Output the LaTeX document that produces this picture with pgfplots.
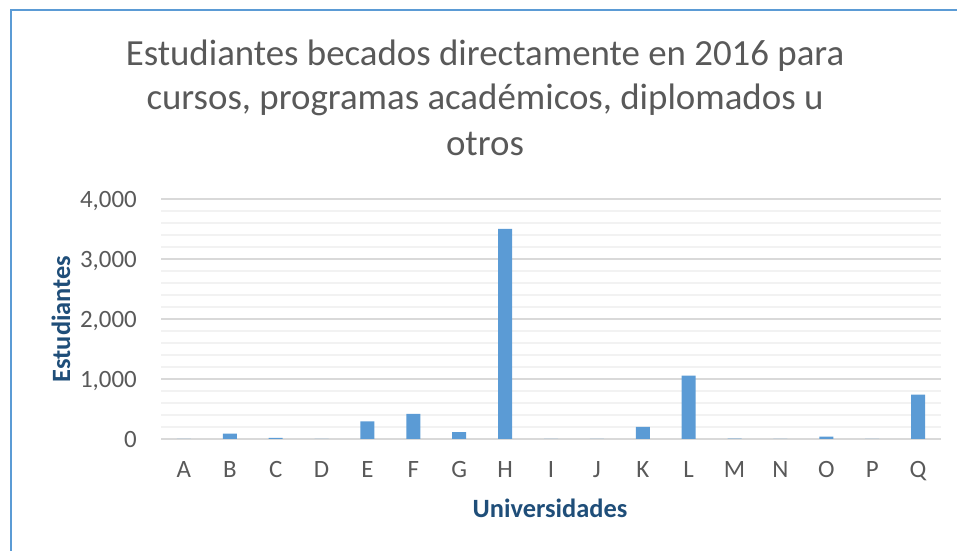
\documentclass[border=0pt]{standalone}
\usepackage{pgfplots}
\pgfplotsset{compat=1.18}
\usepackage{fontspec}
\setmainfont{Carlito}
\definecolor{barblue}{HTML}{5B9BD5}
\definecolor{framecol}{HTML}{5B9BD5}
\definecolor{txtgray}{HTML}{595959}
\definecolor{labblue}{HTML}{1F4E79}
\definecolor{majgrid}{HTML}{D9D9D9}
\definecolor{mingrid}{HTML}{F2F2F2}
\begin{document}
\begin{tikzpicture}[x=1bp,y=1bp]
\useasboundingbox (0,0) rectangle (957,551);
\draw[framecol, line width=2bp] (10.5,0) -- (10.5,540.5) -- (957,540.5);
\node[anchor=base, inner sep=0, text=txtgray, font=\fontsize{37}{44}\selectfont] at (485,485) {Estudiantes becados directamente en 2016 para};
\node[anchor=base, inner sep=0, text=txtgray, font=\fontsize{37}{44}\selectfont] at (485,441) {cursos, programas académicos, diplomados u};
\node[anchor=base, inner sep=0, text=txtgray, font=\fontsize{37}{44}\selectfont] at (485,395) {otros};
\node[rotate=90, inner sep=0, text=labblue, font=\fontsize{26.5}{30}\selectfont\bfseries] at (61,232) {Estudiantes};
\node[anchor=base, inner sep=0, text=labblue, font=\fontsize{26.5}{30}\selectfont\bfseries] at (550,33) {Universidades};
\begin{axis}[
  at={(161bp,112bp)}, anchor=south west,
  scale only axis, width=780bp, height=240bp,
  xmin=-0.5, xmax=16.5, ymin=0, ymax=4000,
  axis x line*=bottom, axis y line*=left,
  y axis line style={draw=none},
  x axis line style={draw=majgrid, line width=1.4bp, -},
  major tick length=0pt, minor tick length=0pt,
  xtick={0,...,16},
  xticklabels={A,B,C,D,E,F,G,H,I,J,K,L,M,N,O,P,Q},
  ytick={0,1000,2000,3000,4000},
  minor ytick={200,400,600,800,1200,1400,1600,1800,2200,2400,2600,2800,3200,3400,3600,3800},
  ymajorgrids, yminorgrids,
  major grid style={draw=majgrid, line width=1.4bp},
  minor grid style={draw=mingrid, line width=1.4bp},
  /pgf/number format/assume math mode=true,
  /pgf/number format/1000 sep={,},
  scaled y ticks=false,
  yticklabel style={anchor=base east, inner sep=0pt, xshift=-24bp, yshift=-8.5bp, text=txtgray, font=\fontsize{25}{28}\selectfont},
  xticklabel style={anchor=base, inner sep=0pt, yshift=-39bp, text=txtgray, font=\fontsize{25}{28}\selectfont},
  clip=false,
]
\addplot[ybar, bar width=14bp, fill=barblue, draw=none] coordinates {
(0,0) (1,90) (2,20) (3,0) (4,295) (5,420) (6,115) (7,3500) (8,0) (9,0) (10,200) (11,1055) (12,8) (13,0) (14,40) (15,0) (16,740)
};
\end{axis}
\end{tikzpicture}
\end{document}
